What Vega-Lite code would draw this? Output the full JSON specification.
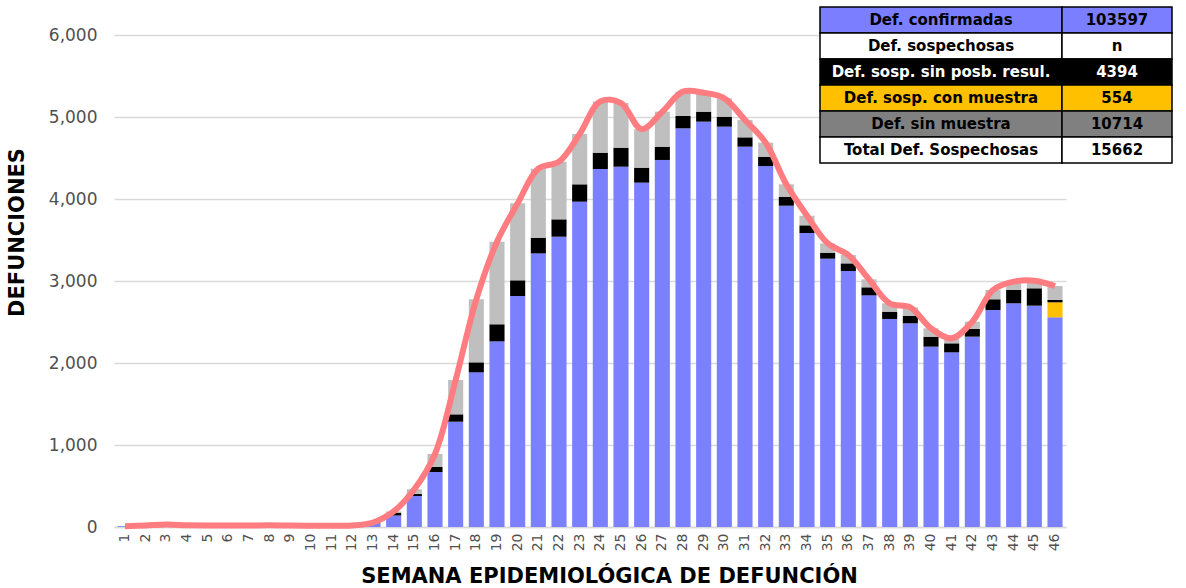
{
  "$schema": "https://vega.github.io/schema/vega-lite/v6.json",
  "autosize": {"type": "none"},
  "padding": {"left": 114, "top": 35, "right": 120, "bottom": 61},
  "width": 952,
  "height": 492,
  "background": "white",
  "config": {
    "view": {"stroke": null},
    "font": "DejaVu Sans",
    "axisY": {
      "title": "DEFUNCIONES",
      "titleFont": "DejaVu Sans",
      "titleFontSize": 21,
      "titleFontWeight": "bold",
      "titleColor": "#000000",
      "titleY": 197,
      "titlePadding": 21,
      "labelFontSize": 17,
      "labelColor": "#505050",
      "labelPadding": 17,
      "ticks": false,
      "domain": false,
      "grid": true,
      "gridColor": "#d9d9d9",
      "gridWidth": 1.3
    }
  },
  "layer": [
    {
      "data": {
        "values": [
          {"week": 1, "s1_confirmadas": 10, "s2_con_muestra": 0, "s3_sin_resultado": 0, "s4_sin_muestra": 0},
          {"week": 2, "s1_confirmadas": 18, "s2_con_muestra": 0, "s3_sin_resultado": 0, "s4_sin_muestra": 0},
          {"week": 3, "s1_confirmadas": 30, "s2_con_muestra": 0, "s3_sin_resultado": 0, "s4_sin_muestra": 0},
          {"week": 4, "s1_confirmadas": 22, "s2_con_muestra": 0, "s3_sin_resultado": 0, "s4_sin_muestra": 0},
          {"week": 5, "s1_confirmadas": 18, "s2_con_muestra": 0, "s3_sin_resultado": 0, "s4_sin_muestra": 0},
          {"week": 6, "s1_confirmadas": 17, "s2_con_muestra": 0, "s3_sin_resultado": 0, "s4_sin_muestra": 0},
          {"week": 7, "s1_confirmadas": 18, "s2_con_muestra": 0, "s3_sin_resultado": 0, "s4_sin_muestra": 0},
          {"week": 8, "s1_confirmadas": 20, "s2_con_muestra": 0, "s3_sin_resultado": 0, "s4_sin_muestra": 0},
          {"week": 9, "s1_confirmadas": 17, "s2_con_muestra": 0, "s3_sin_resultado": 0, "s4_sin_muestra": 0},
          {"week": 10, "s1_confirmadas": 16, "s2_con_muestra": 0, "s3_sin_resultado": 0, "s4_sin_muestra": 0},
          {"week": 11, "s1_confirmadas": 15, "s2_con_muestra": 0, "s3_sin_resultado": 0, "s4_sin_muestra": 0},
          {"week": 12, "s1_confirmadas": 18, "s2_con_muestra": 0, "s3_sin_resultado": 0, "s4_sin_muestra": 0},
          {"week": 13, "s1_confirmadas": 40, "s2_con_muestra": 0, "s3_sin_resultado": 5, "s4_sin_muestra": 10},
          {"week": 14, "s1_confirmadas": 140, "s2_con_muestra": 0, "s3_sin_resultado": 35, "s4_sin_muestra": 15},
          {"week": 15, "s1_confirmadas": 378, "s2_con_muestra": 0, "s3_sin_resultado": 24, "s4_sin_muestra": 58},
          {"week": 16, "s1_confirmadas": 671, "s2_con_muestra": 0, "s3_sin_resultado": 61, "s4_sin_muestra": 158},
          {"week": 17, "s1_confirmadas": 1284, "s2_con_muestra": 0, "s3_sin_resultado": 90, "s4_sin_muestra": 419},
          {"week": 18, "s1_confirmadas": 1886, "s2_con_muestra": 0, "s3_sin_resultado": 122, "s4_sin_muestra": 769},
          {"week": 19, "s1_confirmadas": 2264, "s2_con_muestra": 0, "s3_sin_resultado": 208, "s4_sin_muestra": 1007},
          {"week": 20, "s1_confirmadas": 2817, "s2_con_muestra": 0, "s3_sin_resultado": 191, "s4_sin_muestra": 939},
          {"week": 21, "s1_confirmadas": 3337, "s2_con_muestra": 0, "s3_sin_resultado": 191, "s4_sin_muestra": 842},
          {"week": 22, "s1_confirmadas": 3540, "s2_con_muestra": 0, "s3_sin_resultado": 212, "s4_sin_muestra": 703},
          {"week": 23, "s1_confirmadas": 3967, "s2_con_muestra": 0, "s3_sin_resultado": 212, "s4_sin_muestra": 614},
          {"week": 24, "s1_confirmadas": 4366, "s2_con_muestra": 0, "s3_sin_resultado": 199, "s4_sin_muestra": 625},
          {"week": 25, "s1_confirmadas": 4394, "s2_con_muestra": 0, "s3_sin_resultado": 232, "s4_sin_muestra": 544},
          {"week": 26, "s1_confirmadas": 4199, "s2_con_muestra": 0, "s3_sin_resultado": 183, "s4_sin_muestra": 470},
          {"week": 27, "s1_confirmadas": 4476, "s2_con_muestra": 0, "s3_sin_resultado": 162, "s4_sin_muestra": 427},
          {"week": 28, "s1_confirmadas": 4862, "s2_con_muestra": 0, "s3_sin_resultado": 150, "s4_sin_muestra": 297},
          {"week": 29, "s1_confirmadas": 4943, "s2_con_muestra": 0, "s3_sin_resultado": 122, "s4_sin_muestra": 231},
          {"week": 30, "s1_confirmadas": 4882, "s2_con_muestra": 0, "s3_sin_resultado": 122, "s4_sin_muestra": 224},
          {"week": 31, "s1_confirmadas": 4638, "s2_con_muestra": 0, "s3_sin_resultado": 114, "s4_sin_muestra": 211},
          {"week": 32, "s1_confirmadas": 4402, "s2_con_muestra": 0, "s3_sin_resultado": 114, "s4_sin_muestra": 171},
          {"week": 33, "s1_confirmadas": 3918, "s2_con_muestra": 0, "s3_sin_resultado": 110, "s4_sin_muestra": 151},
          {"week": 34, "s1_confirmadas": 3585, "s2_con_muestra": 0, "s3_sin_resultado": 94, "s4_sin_muestra": 117},
          {"week": 35, "s1_confirmadas": 3272, "s2_con_muestra": 0, "s3_sin_resultado": 73, "s4_sin_muestra": 114},
          {"week": 36, "s1_confirmadas": 3122, "s2_con_muestra": 0, "s3_sin_resultado": 93, "s4_sin_muestra": 102},
          {"week": 37, "s1_confirmadas": 2825, "s2_con_muestra": 0, "s3_sin_resultado": 98, "s4_sin_muestra": 97},
          {"week": 38, "s1_confirmadas": 2537, "s2_con_muestra": 0, "s3_sin_resultado": 89, "s4_sin_muestra": 102},
          {"week": 39, "s1_confirmadas": 2484, "s2_con_muestra": 0, "s3_sin_resultado": 89, "s4_sin_muestra": 106},
          {"week": 40, "s1_confirmadas": 2199, "s2_con_muestra": 0, "s3_sin_resultado": 122, "s4_sin_muestra": 102},
          {"week": 41, "s1_confirmadas": 2130, "s2_con_muestra": 0, "s3_sin_resultado": 110, "s4_sin_muestra": 61},
          {"week": 42, "s1_confirmadas": 2321, "s2_con_muestra": 0, "s3_sin_resultado": 94, "s4_sin_muestra": 89},
          {"week": 43, "s1_confirmadas": 2646, "s2_con_muestra": 0, "s3_sin_resultado": 131, "s4_sin_muestra": 113},
          {"week": 44, "s1_confirmadas": 2728, "s2_con_muestra": 0, "s3_sin_resultado": 162, "s4_sin_muestra": 102},
          {"week": 45, "s1_confirmadas": 2699, "s2_con_muestra": 0, "s3_sin_resultado": 212, "s4_sin_muestra": 93},
          {"week": 46, "s1_confirmadas": 2557, "s2_con_muestra": 183, "s3_sin_resultado": 28, "s4_sin_muestra": 171}
        ]
      },
      "transform": [
        {"fold": ["s1_confirmadas", "s2_con_muestra", "s3_sin_resultado", "s4_sin_muestra"], "as": ["cat", "val"]}
      ],
      "encoding": {
        "x": {
          "field": "week",
          "type": "ordinal",
          "scale": {"paddingInner": 0.27, "paddingOuter": 0.167},
          "axis": {
            "title": "SEMANA EPIDEMIOLÓGICA DE DEFUNCIÓN",
            "titleFont": "DejaVu Sans",
            "titleFontSize": 21,
            "titleFontWeight": "bold",
            "titleColor": "#000000",
            "titlePadding": 15,
            "titleX": 495,
            "labelAngle": -90,
            "labelFontSize": 14,
            "labelColor": "#505050",
            "labelPadding": 6,
            "ticks": false,
            "domain": true,
            "domainColor": "#d9d9d9",
            "domainWidth": 1.5,
            "grid": false
          }
        }
      },
      "layer": [
        {
          "mark": {"type": "bar"},
          "encoding": {
            "y": {
              "field": "val",
              "type": "quantitative",
              "stack": "zero",
              "scale": {"domain": [0, 6000], "nice": false},
              "axis": {
                "title": "DEFUNCIONES",
                "values": [0, 1000, 2000, 3000, 4000, 5000, 6000],
                "labelExpr": "format(datum.value, ',')"
              }
            },
            "color": {
              "field": "cat",
              "type": "nominal",
              "scale": {
                "domain": ["s1_confirmadas", "s2_con_muestra", "s3_sin_resultado", "s4_sin_muestra"],
                "range": ["#7B80FF", "#FFC000", "#000000", "#BFBFBF"]
              },
              "legend": null
            },
            "order": {"field": "cat", "type": "nominal", "sort": "ascending"}
          }
        },
        {
          "mark": {"type": "line", "color": "#FF7C80", "strokeWidth": 6, "interpolate": "catmull-rom"},
          "encoding": {
            "y": {
              "aggregate": "sum",
              "field": "val",
              "type": "quantitative",
              "axis": {
                "title": "DEFUNCIONES",
                "values": [0, 1000, 2000, 3000, 4000, 5000, 6000],
                "labelExpr": "format(datum.value, ',')"
              }
            }
          }
        }
      ]
    },
    {
      "data": {
        "values": [
          {"row": 1, "label": "Def. confirmadas", "value": "103597", "kind": "conf"},
          {"row": 2, "label": "Def. sospechosas", "value": "n", "kind": "blank"},
          {"row": 3, "label": "Def. sosp. sin posb. resul.", "value": "4394", "kind": "sinres"},
          {"row": 4, "label": "Def. sosp. con  muestra", "value": "554", "kind": "conm"},
          {"row": 5, "label": "Def. sin muestra", "value": "10714", "kind": "sinm"},
          {"row": 6, "label": "Total Def. Sospechosas", "value": "15662", "kind": "total"}
        ]
      },
      "encoding": {
        "y": {
          "field": "row",
          "type": "ordinal",
          "scale": {"range": [-28, 128], "paddingInner": 0, "paddingOuter": 0},
          "axis": null
        }
      },
      "layer": [
        {
          "mark": {"type": "rect", "stroke": "#000000", "strokeWidth": 1.5},
          "encoding": {
            "x": {"datum": 0, "type": "quantitative", "scale": {"domain": [0, 1, 2], "range": [706, 948, 1058], "nice": false, "zero": false}, "axis": null},
            "x2": {"datum": 1},
            "color": {
              "field": "kind",
              "type": "nominal",
              "scale": {
                "domain": ["conf", "blank", "sinres", "conm", "sinm", "total"],
                "range": ["#7B7FFF", "#FFFFFF", "#000000", "#FFC000", "#808080", "#FFFFFF"]
              },
              "legend": null
            }
          }
        },
        {
          "mark": {"type": "rect", "stroke": "#000000", "strokeWidth": 1.5},
          "encoding": {
            "x": {"datum": 1, "type": "quantitative"},
            "x2": {"datum": 2},
            "color": {"field": "kind", "type": "nominal", "legend": null}
          }
        },
        {
          "mark": {"type": "text", "font": "DejaVu Sans", "fontSize": 15, "fontWeight": "bold", "align": "center", "baseline": "middle"},
          "encoding": {
            "x": {"datum": 0.5, "type": "quantitative"},
            "text": {"field": "label"},
            "color": {"condition": {"test": "datum.kind === 'sinres'", "value": "#FFFFFF"}, "value": "#000000"}
          }
        },
        {
          "mark": {"type": "text", "font": "DejaVu Sans", "fontSize": 15, "fontWeight": "bold", "align": "center", "baseline": "middle"},
          "encoding": {
            "x": {"datum": 1.5, "type": "quantitative"},
            "text": {"field": "value"},
            "color": {"condition": {"test": "datum.kind === 'sinres'", "value": "#FFFFFF"}, "value": "#000000"}
          }
        }
      ]
    }
  ],
  "resolve": {"scale": {"x": "independent", "y": "independent", "color": "independent"}}
}
